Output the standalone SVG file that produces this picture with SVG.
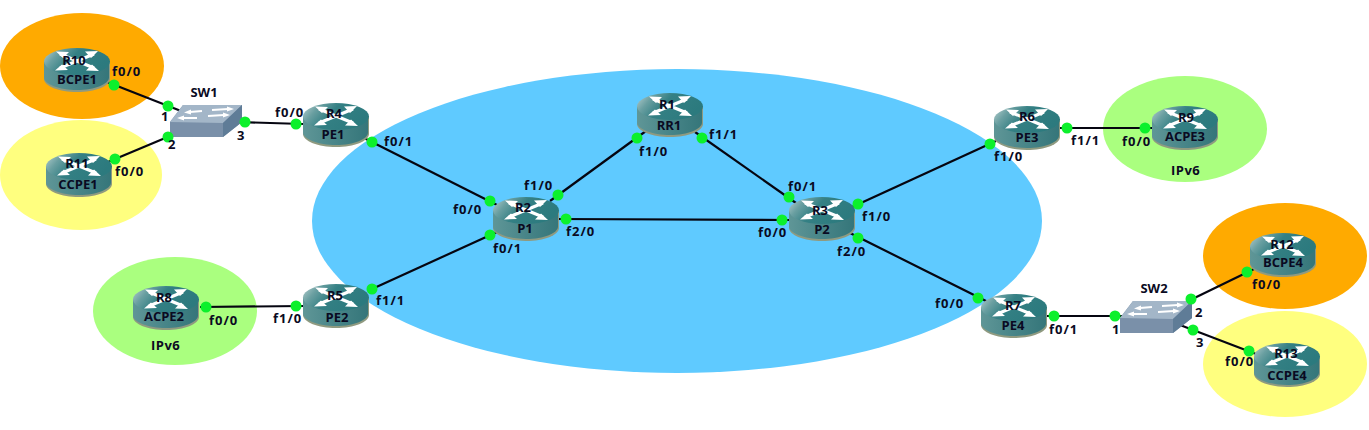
<svg xmlns="http://www.w3.org/2000/svg" width="1369" height="430" viewBox="0 0 1369 430">
<style>
text{font-family:"Open Sans","Liberation Sans",sans-serif;font-weight:700;font-size:13px;fill:#0a0a22}
.n{text-anchor:middle}
.l{letter-spacing:1px}
.c line{stroke:#050510;stroke-width:2.2}
.d circle{fill:#0cf02c}
.x{stroke:#fff;stroke-width:3;fill:none}
.s{stroke:#fff;stroke-width:1.8;fill:none}
</style>
<defs>
<linearGradient id="top" x1="0" x2="1" y1="0" y2="0.35"><stop offset="0" stop-color="#bcd2d2"/><stop offset=".25" stop-color="#6a9fa1"/><stop offset=".5" stop-color="#348084"/><stop offset="1" stop-color="#2c7a7e"/></linearGradient>
<linearGradient id="body" x1="0" x2="1" y1="0" y2="0"><stop offset="0" stop-color="#5f9697"/><stop offset=".5" stop-color="#488588"/><stop offset="1" stop-color="#35767a"/></linearGradient>
<g id="router">
<path d="M0 13V31C0 38 15 44 33 44S66 38 66 31V13Z" fill="#8f9a80"/>
<path d="M0 13V29.500C0 36 15 42 33 42S65 36 65 29.500V13Z" fill="url(#body)"/>
<ellipse cx="33" cy="13.500" rx="33" ry="13.500" fill="url(#top)"/>
<path class="x" d="M16 6L50 20M50 6L16 20"/>
<path d="M12 3.500L25 4 19 10ZM54 3L41 3.500 47 10ZM11 22.500L24 22 18 16.500ZM55 23L42 22.500 48 16.500Z" fill="#fff"/>
</g>
<g id="switch">
<path d="M0 17L13 0H72V17L53 32H0Z" fill="#7a90a9"/>
<path d="M0 17L13 0H72L53 18Z" fill="#a3b6c8"/>
<path d="M53 18L72 0V17L53 32Z" fill="#5f7c97"/>
<path class="s" d="M20 7L32 6M42 5L58 4M13 13L27 13M38 11L54 10"/>
<path d="M14 7.500L21 4.500 21 9.500ZM64 4L57 1.500 57 6.500ZM7 13L14 10.500 14 15.500ZM60 10L53 7.500 53 12.500Z" fill="#fff"/>
</g>
</defs>
<g id="regions">
<ellipse cx="82" cy="66" rx="82" ry="53" fill="#ffaa00"/>
<ellipse cx="81" cy="175" rx="81" ry="55" fill="#ffff7f"/>
<ellipse cx="677" cy="221" rx="365" ry="152" fill="#5fcaff"/>
<ellipse cx="175" cy="311" rx="82" ry="54" fill="#aaff7f"/>
<ellipse cx="1185" cy="129" rx="82" ry="53" fill="#aaff7f"/>
<ellipse cx="1285" cy="256" rx="82" ry="53" fill="#ffaa00"/>
<ellipse cx="1285" cy="364" rx="82" ry="53" fill="#ffff7f"/>
</g>
<g id="connectors" class="c">
<line x1="107" y1="82" x2="181" y2="111"/>
<line x1="108" y1="162" x2="170" y2="136"/>
<line x1="238" y1="122" x2="303" y2="124"/>
<line x1="364" y1="138" x2="497" y2="205"/>
<line x1="372" y1="289" x2="497" y2="232"/>
<line x1="200" y1="307" x2="303" y2="306"/>
<line x1="550" y1="201" x2="646" y2="131"/>
<line x1="695" y1="132" x2="796" y2="203"/>
<line x1="556" y1="219" x2="790" y2="220"/>
<line x1="850" y1="208" x2="996" y2="141"/>
<line x1="850" y1="233" x2="988" y2="302"/>
<line x1="1055" y1="128" x2="1152" y2="128"/>
<line x1="1045" y1="316" x2="1122" y2="316"/>
<line x1="1180" y1="305" x2="1254" y2="269"/>
<line x1="1180" y1="325" x2="1256" y2="354"/>
</g>
<g id="R10" transform="translate(44 48)"><use href="#router"/><text class="n" x="30" y="17">R10</text><text class="n" x="33" y="36">BCPE1</text></g>
<g id="R11" transform="translate(46 153)"><use href="#router"/><text class="n" x="31" y="15">R11</text><text class="n" x="32" y="36">CCPE1</text></g>
<g id="SW1" transform="translate(170 105)"><use href="#switch"/><text class="n" x="34" y="-8">SW1</text></g>
<g id="R4" transform="translate(303 103)"><use href="#router"/><text class="n" x="31" y="15">R4</text><text class="n" x="30" y="36">PE1</text></g>
<g id="R2" transform="translate(493 197)"><use href="#router"/><text class="n" x="30" y="15">R2</text><text class="n" x="32" y="36">P1</text></g>
<g id="R1" transform="translate(637 93)"><use href="#router"/><text class="n" x="30" y="16">R1</text><text class="n" x="32" y="37">RR1</text></g>
<g id="R3" transform="translate(789 197)"><use href="#router"/><text class="n" x="31" y="18">R3</text><text class="n" x="33" y="37">P2</text></g>
<g id="R6" transform="translate(994 106)"><use href="#router"/><text class="n" x="33" y="15">R6</text><text class="n" x="33" y="36">PE3</text></g>
<g id="R9" transform="translate(1152 106)"><use href="#router"/><text class="n" x="34" y="16">R9</text><text class="n" x="33" y="35">ACPE3</text></g>
<g id="R5" transform="translate(303 284)"><use href="#router"/><text class="n" x="32" y="16">R5</text><text class="n" x="34" y="38">PE2</text></g>
<g id="R8" transform="translate(133 286)"><use href="#router"/><text class="n" x="31" y="16">R8</text><text class="n" x="31" y="35">ACPE2</text></g>
<g id="R7" transform="translate(981 294)"><use href="#router"/><text class="n" x="32" y="16">R7</text><text class="n" x="32" y="36">PE4</text></g>
<g id="R12" transform="translate(1250 233)"><use href="#router"/><text class="n" x="32" y="16">R12</text><text class="n" x="33" y="34">BCPE4</text></g>
<g id="R13" transform="translate(1254 343)"><use href="#router"/><text class="n" x="32" y="15">R13</text><text class="n" x="33" y="37">CCPE4</text></g>
<g id="SW2" transform="translate(1120 301)"><use href="#switch"/><text class="n" x="34" y="-8">SW2</text></g>
<g id="ports" class="d">
<circle cx="114" cy="85" r="5.500"/><circle cx="168" cy="106" r="5.500"/><circle cx="168" cy="137" r="5.500"/><circle cx="115" cy="159" r="5.500"/><circle cx="245" cy="122" r="5.500"/><circle cx="296" cy="124" r="5.500"/><circle cx="372" cy="142" r="5.500"/><circle cx="490" cy="201" r="5.500"/><circle cx="558" cy="195" r="5.500"/><circle cx="566" cy="219" r="5.500"/><circle cx="490" cy="235" r="5.500"/><circle cx="637" cy="138" r="5.500"/><circle cx="702" cy="138" r="5.500"/><circle cx="789" cy="197" r="5.500"/><circle cx="858" cy="204" r="5.500"/><circle cx="858" cy="238" r="5.500"/><circle cx="782" cy="220" r="5.500"/><circle cx="990" cy="144" r="5.500"/><circle cx="1067" cy="128" r="5.500"/><circle cx="1145" cy="128" r="5.500"/><circle cx="372" cy="289" r="5.500"/><circle cx="296" cy="306" r="5.500"/><circle cx="206" cy="307" r="5.500"/><circle cx="978" cy="298" r="5.500"/><circle cx="1054" cy="316" r="5.500"/><circle cx="1115" cy="316" r="5.500"/><circle cx="1191" cy="299" r="5.500"/><circle cx="1193" cy="330" r="5.500"/><circle cx="1247" cy="272" r="5.500"/><circle cx="1249" cy="351" r="5.500"/>
</g>
<g id="labels">
<text class="l" x="112" y="76">f0/0</text><text class="l" x="115" y="176">f0/0</text><text x="161" y="121">1</text><text x="168" y="149">2</text><text x="237" y="140">3</text><text class="l" x="275" y="117">f0/0</text><text class="l" x="384" y="146">f0/1</text>
<text class="l" x="453" y="214">f0/0</text><text class="l" x="524" y="190">f1/0</text><text class="l" x="566" y="236">f2/0</text><text class="l" x="493" y="253">f0/1</text>
<text class="l" x="639" y="156">f1/0</text><text class="l" x="709" y="139">f1/1</text><text class="l" x="788" y="191">f0/1</text><text class="l" x="862" y="221">f1/0</text><text class="l" x="837" y="256">f2/0</text><text class="l" x="758" y="237">f0/0</text>
<text class="l" x="994" y="161">f1/0</text><text class="l" x="1071" y="145">f1/1</text><text class="l" x="1122" y="146">f0/0</text><text x="1171" y="175" letter-spacing=".5">IPv6</text>
<text class="l" x="376" y="305">f1/1</text><text class="l" x="273" y="323">f1/0</text><text class="l" x="209" y="325">f0/0</text><text x="151" y="350" letter-spacing=".5">IPv6</text>
<text class="l" x="935" y="308">f0/0</text><text class="l" x="1049" y="334">f0/1</text><text x="1112" y="334">1</text><text x="1195" y="317">2</text><text x="1196" y="347">3</text><text class="l" x="1252" y="289">f0/0</text><text class="l" x="1225" y="366">f0/0</text>
</g>
</svg>
